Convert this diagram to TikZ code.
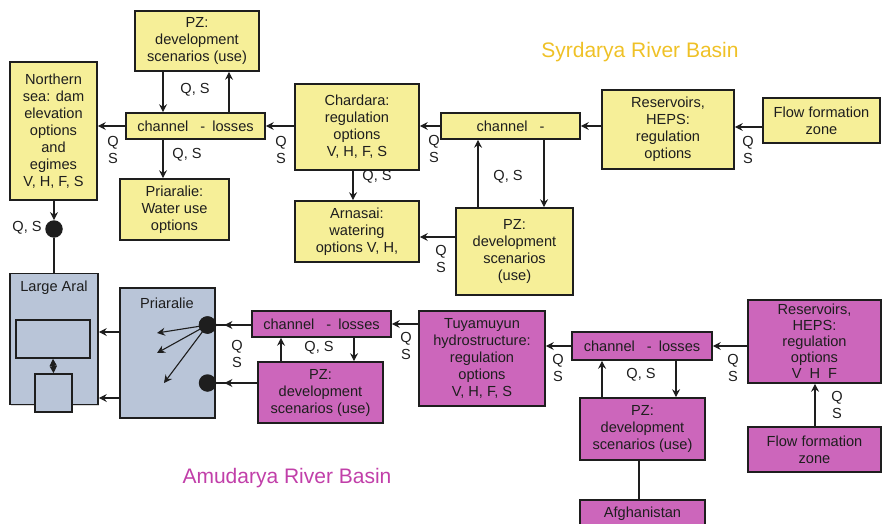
\documentclass[tikz,border=0pt]{standalone}
\usepackage{fontspec}
\setmainfont{Liberation Sans}
\usetikzlibrary{arrows.meta,shadows}

\definecolor{syrfill}{HTML}{F6EF98}
\definecolor{amufill}{HTML}{CC66BB}
\definecolor{aralfill}{HTML}{B9C5D8}
\definecolor{syrtitle}{HTML}{EFC126}
\definecolor{amutitle}{HTML}{C13FA9}
\definecolor{ink}{HTML}{1E1E1E}

\tikzset{
  txt/.style={font=\fontsize{14.6}{17}\selectfont, text=ink, align=center, inner sep=0pt},
  box/.style={txt, draw=ink, line width=1.6pt,
    drop shadow={shadow xshift=1.2pt, shadow yshift=-1.2pt, opacity=.3}},
  syr/.style={box, fill=syrfill},
  amu/.style={box, fill=amufill},
  aral/.style={box, fill=aralfill},
  part/.style={draw=ink, line width=1.6pt, fill=aralfill, inner sep=0pt},
  flow/.style={draw=ink, line width=1.1pt, -{Stealth[length=8pt, width=8pt, inset=2.7pt]}},
  link/.style={draw=ink, line width=1.1pt},
  qs/.style={txt},
  dot/.style={circle, fill=ink, minimum size=17.5pt, inner sep=0pt},
  title/.style={font=\fontsize{21}{24}\selectfont, inner sep=0pt},
}

\begin{document}
\begin{tikzpicture}[x=1pt, y=-1pt]
\useasboundingbox (0,0) rectangle (883,524);
\clip (0,0) rectangle (883,524);

% ---------------- Syrdarya basin ----------------
\node[title, text=syrtitle] (syrT) at (640,52) {Syrdarya River Basin};

\node[syr, minimum width=124pt, minimum height=60pt] (pzA) at (197,41)
  {PZ:\\development\\scenarios (use)};
\node[syr, minimum width=87pt, minimum height=138pt] (north) at (53.5,131)
  {Northern\\sea: dam\\elevation\\options\\and\\egimes\\V, H, F, S};
\node[syr, minimum width=139pt, minimum height=26pt] (chA) at (195.5,126)
  {channel\hspace{12pt}-\hspace{7pt}losses};
\node[syr, minimum width=109pt, minimum height=61pt] (priW) at (174.5,209.5)
  {Priaralie:\\Water use\\options};
\node[syr, minimum width=124pt, minimum height=86pt] (chard) at (357,127)
  {Chardara:\\regulation\\options\\V, H, F, S};
\node[syr, minimum width=124pt, minimum height=61pt] (arn) at (357,231.5)
  {Arnasai:\\watering\\options V, H,};
\node[syr, minimum width=139pt, minimum height=26pt] (chB) at (510.5,126)
  {channel\hspace{12pt}-};
\node[syr, minimum width=117pt, minimum height=87pt] (pzB) at (514.5,251.5)
  {PZ:\\development\\scenarios\\(use)};
\node[syr, minimum width=132pt, minimum height=79pt] (resY) at (668,129.5)
  {Reservoirs,\\HEPS:\\regulation\\options};
\node[syr, minimum width=117pt, minimum height=45pt] (flowY) at (821.5,120.5)
  {Flow formation\\zone};

% ---------------- Aral sea and delta ----------------
\node[aral, minimum width=88pt, minimum height=131pt] (large) at (54,339) {};
\node[txt] (largeL) at (54,288) {Large Aral};
\node[part, minimum width=74pt, minimum height=38pt] (basin) at (53,339) {};
\node[part, minimum width=37pt, minimum height=38pt] (gate) at (53.5,393) {};
\node[aral, minimum width=95pt, minimum height=130pt] (pri) at (167.5,353) {};
\node[txt] (priL) at (167,303) {Priaralie};

% ---------------- Amudarya basin ----------------
\node[title, text=amutitle] (amuT) at (287,478) {Amudarya River Basin};

\node[amu, minimum width=139pt, minimum height=26pt] (chC) at (321.5,324)
  {channel\hspace{12pt}-\hspace{7pt}losses};
\node[amu, minimum width=125pt, minimum height=61pt] (pzC) at (320.5,392.5)
  {PZ:\\development\\scenarios (use)};
\node[amu, minimum width=126pt, minimum height=95pt] (tuy) at (482,358.5)
  {Tuyamuyun\\hydrostructure:\\regulation\\options\\V, H, F, S};
\node[amu, minimum width=140pt, minimum height=28pt] (chD) at (642,346)
  {channel\hspace{12pt}-\hspace{7pt}losses};
\node[amu, minimum width=125pt, minimum height=62pt] (pzD) at (642.5,429)
  {PZ:\\development\\scenarios (use)};
\node[amu, minimum width=125pt, minimum height=28pt] (afg) at (642.5,514)
  {Afghanistan};
\node[amu, minimum width=133pt, minimum height=83pt, font=\fontsize{14.6}{16}\selectfont] (resM) at (814.5,341.5)
  {Reservoirs,\\HEPS:\\regulation\\options\\V\hspace{8pt}H\hspace{8pt}F};
\node[amu, minimum width=133pt, minimum height=45pt] (flowM) at (814.5,449.5)
  {Flow formation\\zone};

% ---------------- Syrdarya connectors ----------------
\draw[flow] (pzA.south -| 163,0) -- (chA.north -| 163,0);
\draw[flow] (chA.north -| 229,0) -- (pzA.south -| 229,0);
\draw[flow] (chA.west) -- (north.east |- chA.west);
\draw[flow] (chard.west |- chA.east) -- (chA.east);
\draw[flow] (chA.south -| 163,0) -- (priW.north -| 163,0);
\draw[flow] (chard.south -| 353,0) -- (arn.north -| 353,0);
\draw[flow] (chB.west) -- (chard.east |- chB.west);
\draw[flow] (pzB.north -| 478,0) -- (chB.south -| 478,0);
\draw[flow] (chB.south -| 544,0) -- (pzB.north -| 544,0);
\draw[flow] (pzB.west |- 0,237) -- (arn.east |- 0,237);
\draw[flow] (resY.west |- chB.east) -- (chB.east);
\draw[flow] (flowY.west |- 0,127) -- (resY.east |- 0,127);

\node[qs] (qsA1) at (195,90) {Q, S};
\node[qs] (qsA2) at (113,150) {Q\\S};
\node[qs] (qsA3) at (281,150) {Q\\S};
\node[qs] (qsA4) at (187,155) {Q, S};
\node[qs] (qsA5) at (377,177) {Q, S};
\node[qs] (qsA6) at (434,149) {Q\\S};
\node[qs] (qsA7) at (508,177) {Q, S};
\node[qs] (qsA8) at (441,259) {Q\\S};
\node[qs] (qsA9) at (748,150) {Q\\S};

% ---------------- Aral connectors ----------------
\node[dot] (dotN) at (54,229) {};
\node[qs] (qsN) at (27,228) {Q, S};
\draw[flow] (north.south -| dotN.north) -- (dotN.north);
\draw[link] (dotN.south) -- (large.north -| dotN.south);
\draw[flow] (pri.west |- 0,332) -- (large.east |- 0,332);
\draw[flow] (pri.west |- 0,398) -- (large.east |- 0,398);
\draw[link, {Stealth[length=7pt, width=7pt, inset=0pt]}-{Stealth[length=7pt, width=7pt, inset=0pt]}]
  (basin.south) -- (gate.north);

\coordinate (f1) at (157,333);
\coordinate (f2) at (157,353);
\coordinate (f3) at (164,383);
\node[dot] (dot1) at (207.5,325) {};
\node[dot] (dot2) at (207.5,383) {};
\draw[flow] (dot1.center) -- (f1);
\draw[flow] (dot1.center) -- (f2);
\draw[flow] (dot1.center) -- (f3);
\node[dot] at (dot1) {};

% ---------------- Amudarya connectors ----------------
\draw[link] (chC.west |- dot1.east) -- (dot1.east);
\draw[flow] (chC.west |- dot1.east) -- ([xshift=8pt]dot1.east);
\draw[link] (pzC.west |- dot2.east) -- (dot2.east);
\draw[flow] (pzC.west |- dot2.east) -- ([xshift=8pt]dot2.east);
\draw[flow] (pzC.north -| 281,0) -- (chC.south -| 281,0);
\draw[flow] (chC.south -| 354,0) -- (pzC.north -| 354,0);
\draw[flow] (tuy.west |- chC.east) -- (chC.east);
\draw[flow] (chD.west) -- (tuy.east |- chD.west);
\draw[flow] (pzD.north -| 602,0) -- (chD.south -| 602,0);
\draw[flow] (chD.south -| 676,0) -- (pzD.north -| 676,0);
\draw[link] (pzD.south -| 639,0) -- (afg.north -| 639,0);
\draw[flow] (resM.west |- chD.east) -- (chD.east);
\draw[flow] (flowM.north -| 815,0) -- (resM.south -| 815,0);

\node[qs] (qsB1) at (237,354) {Q\\S};
\node[qs] (qsB2) at (319,348) {Q, S};
\node[qs] (qsB3) at (406,346) {Q\\S};
\node[qs] (qsB4) at (558,368) {Q\\S};
\node[qs] (qsB5) at (641,375) {Q, S};
\node[qs] (qsB6) at (733,368) {Q\\S};
\node[qs] (qsB7) at (837,405) {Q\\S};
\end{tikzpicture}
\end{document}
